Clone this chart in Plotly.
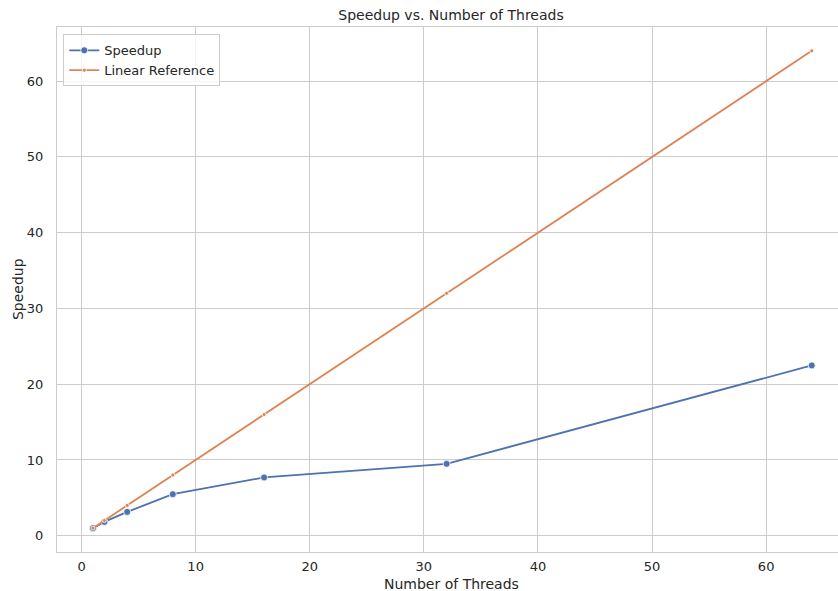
import plotly.graph_objects as go

threads = [1, 2, 4, 8, 16, 32, 64]
speedup = [1.0, 1.82, 3.14, 5.48, 7.69, 9.49, 22.48]
linear_ref = [1, 2, 4, 8, 16, 32, 64]
x_ticks = [0, 10, 20, 30, 40, 50, 60]
y_ticks = [0, 10, 20, 30, 40, 50, 60]

BLUE = "#4c72b0"
ORANGE = "#dd8452"
GRID = "#cccccc"
TXT = "#262626"
FONT = "DejaVu Sans"

fig = go.Figure()
fig.add_trace(go.Scatter(
    x=threads, y=speedup, mode="lines+markers", name="Speedup",
    line=dict(color=BLUE, width=1.8),
    marker=dict(color=BLUE, size=7, line=dict(color="white", width=0.8)),
))
fig.add_trace(go.Scatter(
    x=threads, y=linear_ref, mode="lines+markers", name="Linear Reference",
    line=dict(color=ORANGE, width=1.8),
    marker=dict(color=ORANGE, size=4, line=dict(color="white", width=0.8)),
))

W, H = 838, 591
L, T, B = 56.5, 27.3, 551.7

fig.update_layout(
    width=W, height=H,
    margin=dict(l=L, r=0, t=T, b=H - B, pad=0, autoexpand=False),
    paper_bgcolor="white", plot_bgcolor="white",
    font=dict(family=FONT, size=13, color=TXT),
    title=dict(text="Speedup vs. Number of Threads", x=451 / W, xref="container",
               xanchor="center", y=1 - 15 / H, yref="container", yanchor="middle",
               font=dict(size=14, color=TXT, family=FONT)),
    showlegend=True,
    legend=dict(x=0.008, y=0.986, xanchor="left", yanchor="top",
                bordercolor=GRID, borderwidth=1, bgcolor="rgba(255,255,255,0.8)",
                font=dict(size=13, color=TXT), tracegroupgap=0,
                itemwidth=30),
    annotations=[
        dict(text="Number of Threads", xref="paper", yref="paper",
             x=(451 - L) / (W - L), y=-(584 - B) / (B - T),
             xanchor="center", yanchor="middle", showarrow=False,
             font=dict(size=14, color=TXT)),
        dict(text="Speedup", xref="paper", yref="paper",
             x=-(L - 17) / (W - L), y=0.5, textangle=-90,
             xanchor="center", yanchor="middle", showarrow=False,
             font=dict(size=14, color=TXT)),
    ],
)
fig.update_xaxes(
    range=[-2.15, 66.3], tickvals=x_ticks, ticktext=[str(v) for v in x_ticks],
    showgrid=True, gridcolor=GRID, gridwidth=1.2, zeroline=False,
    showline=True, linecolor=GRID, linewidth=1.3, mirror=True,
    ticks="outside", ticklen=2, tickcolor="rgba(0,0,0,0)",
    tickfont=dict(size=13, color=TXT), automargin=False,
)
fig.update_yaxes(
    range=[-2.15, 67.15], tickvals=y_ticks, ticktext=[str(v) for v in y_ticks],
    showgrid=True, gridcolor=GRID, gridwidth=1.2, zeroline=False,
    showline=True, linecolor=GRID, linewidth=1.3, mirror=False,
    ticks="outside", ticklen=10, tickcolor="rgba(0,0,0,0)",
    tickfont=dict(size=13, color=TXT), automargin=False,
)

fig.write_html("out.html")
